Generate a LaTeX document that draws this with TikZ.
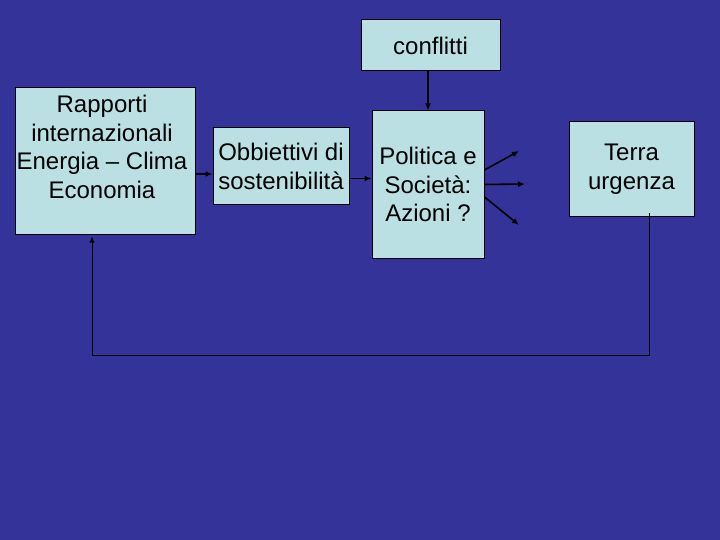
\documentclass[tikz,border=0pt]{standalone}
\usepackage{fontspec}
\setmainfont{Liberation Sans}
\usetikzlibrary{arrows.meta}
\definecolor{slideblue}{RGB}{51,51,153}
\definecolor{boxblue}{RGB}{187,224,227}
\tikzset{
  txt/.style={align=center,inner sep=0pt,font=\fontsize{24}{28.8}\selectfont},
  box/.style={txt,rectangle,draw=black,fill=boxblue,line width=1pt},
  line/.style={-{Latex[length=7pt,width=6pt]},line width=1.6pt},
  back/.style={-{Latex[length=6pt,width=5pt]},line width=0.8pt}
}

\begin{document}
\begin{tikzpicture}[x=1pt,y=-1pt]
\fill[slideblue] (0,0) rectangle (720,540);
\node[box,minimum width=180pt,minimum height=146pt] (rap) at (105,161) {};
\node[txt] (raptxt) at (102,147) {Rapporti\\internazionali\\Energia – Clima\\Economia};
\node[box,minimum width=136pt,minimum height=77pt] (obb) at (281,166.5) {Obbiettivi di\\sostenibilità};
\node[box,minimum width=112pt,minimum height=147pt] (pol) at (428,184.5) {Politica e\\Società:\\Azioni ?};
\node[box,minimum width=139pt,minimum height=51pt] (con) at (430.5,45.5) {conflitti};
\node[box,minimum width=125pt,minimum height=95pt] (ter) at (631.5,169.5) {Terra\\urgenza};
\coordinate (out1) at (519,151);
\coordinate (out2) at (525,184);
\coordinate (out3) at (519,225);
\coordinate (fb) at (649,355);
\draw[line] ([yshift=-13pt]rap.east) -- ([yshift=-13pt]rap.east -| obb.west);
\draw[line] ([yshift=-12pt]obb.east) -- ([yshift=-12pt]obb.east -| pol.west);
\draw[line] (con.south -| pol.north) -- (pol.north);
\draw[line] ([yshift=14.5pt]pol.east) -- (out1);
\draw[line] (pol.east) -- (out2);
\draw[line] ([yshift=-12.5pt]pol.east) -- (out3);
\draw[back] ([xshift=17.5pt,yshift=4pt]ter.south) -- (fb) -| ([xshift=-13pt,yshift=-2pt]rap.south);
\end{tikzpicture}
\end{document}
